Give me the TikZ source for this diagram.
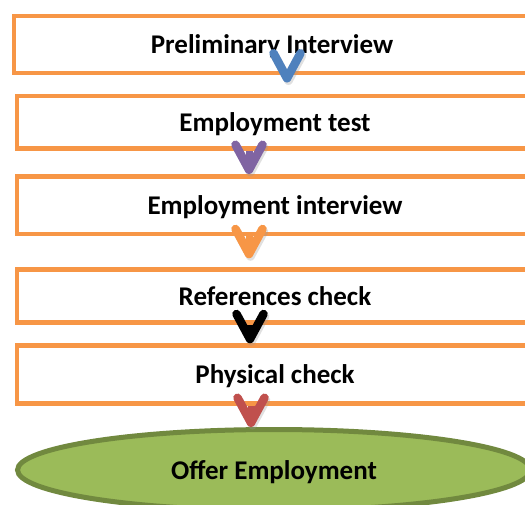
\documentclass[tikz,border=0pt]{standalone}
\usepackage{fontspec}
\setmainfont{Carlito}
\usetikzlibrary{arrows.meta,shapes.geometric}
\definecolor{boxorange}{HTML}{F79646}
\definecolor{arrblue}{HTML}{4F81BD}
\definecolor{arrpurple}{HTML}{8064A2}
\definecolor{arrred}{HTML}{C0504D}
\definecolor{ovalfill}{HTML}{9BBB59}
\definecolor{ovaldraw}{HTML}{71893F}
\tikzset{
  stepbox/.style={draw=boxorange, line width=4.5pt, fill=white,
    minimum width=516pt, minimum height=57pt, inner sep=0pt,
    text height=22pt, text depth=4pt,
    font=\fontsize{27}{30}\selectfont\bfseries},
  chev/.style={draw=#1, line width=7pt,
    preaction={draw=black!40, opacity=.3, transform canvas={shift={(1.5,2.5)}}},
    -{Straight Barb[length=25pt, width=27pt, line width=8.5pt, round]}}
}
\begin{document}
\begin{tikzpicture}[x=1pt, y=-1pt]
	\useasboundingbox (0,0) rectangle (525,504);

	% Этапы отбора
	\node[stepbox] (pi) at (272,44.5) {Preliminary Interview};
	\node[stepbox, minimum height=52.5pt] (et) at (275,122) {Employment test};
	\node[stepbox, minimum height=57.5pt] (ei) at (275,205) {Employment interview};
	\node[stepbox, minimum height=53pt] (rc) at (275,296) {References check};
	\node[stepbox, minimum height=58pt] (pc) at (275,374.5) {Physical check};

	% Итог
	\node[ellipse, draw=ovaldraw, fill=ovalfill, line width=5pt,
	  minimum width=513pt, minimum height=81pt, inner sep=0pt,
	  text height=22pt, text depth=4pt,
	  font=\fontsize{27}{30}\selectfont\bfseries] (oe) at (274,470) {Offer Employment};

	% Стрелки между этапами
	\draw[chev=arrblue, shorten >=11pt] ([xshift=15pt]pi.south) -- ([xshift=15pt]pi.south |- et.north);
	\draw[chev=arrpurple] ([xshift=-26pt]et.south) -- ([xshift=-26pt]et.south |- ei.north);
	\draw[chev=boxorange, shorten >=9pt] ([xshift=-26pt]ei.south) -- ([xshift=-26pt]ei.south |- rc.north);
	\draw[chev=black] ([xshift=-25pt]rc.south) -- ([xshift=-25pt]rc.south |- pc.north);
	\draw[chev=arrred] ([xshift=-24pt]pc.south) -- ([xshift=-24pt]pc.south |- oe.north);
\end{tikzpicture}
\end{document}
